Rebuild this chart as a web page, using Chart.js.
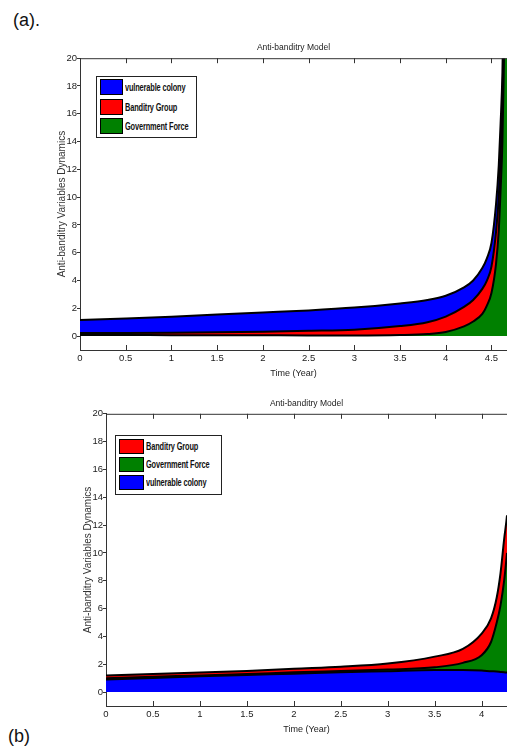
<!DOCTYPE html>
<html lang="en">
<head>
<meta charset="UTF-8">
<title>Anti-banditry Model</title>
<script src="https://cdn.jsdelivr.net/npm/chart.js"></script>
<style>
  body { margin: 0; background: #fff; width: 507px; height: 746px; position: relative; overflow: hidden;
         font-family: "Liberation Sans", Arial, sans-serif; }
  canvas { position: absolute; left: 0; }
  #chartA { top: 0; }
  #chartB { top: 380px; }
  .tag { position: absolute; font-size: 18px; color: #111; line-height: 20px; }
  .legend { position: absolute; border: 1px solid #222; background: #fff; box-sizing: border-box;
            font: bold 10px "Liberation Sans", Arial, sans-serif; color: #111; }
  .legend .row { position: absolute; left: 3px; display: flex; align-items: center; white-space: nowrap; }
  .legend .sw { box-sizing: border-box; border: 1px solid #000; margin-right: 2px; flex: none; }
  .legend .txt { display: inline-block; transform: scaleX(0.74); transform-origin: left center; letter-spacing: -0.2px; }
</style>
</head>
<body>
<div class="tag" style="left:13px; top:10px;">(a).</div>
<div class="tag" style="left:8px; top:726px;">(b)</div>

<canvas id="chartA" width="507" height="390"></canvas>
<canvas id="chartB" width="507" height="366"></canvas>

<div class="legend" style="left:96px; top:76px; width:101px; height:62px;">
  <div class="row" style="top:2px;"><div class="sw" style="width:23px;height:16px;background:#0000ff"></div><span class="txt">vulnerable colony</span></div>
  <div class="row" style="top:22px;"><div class="sw" style="width:23px;height:16px;background:#ff0000"></div><span class="txt">Banditry Group</span></div>
  <div class="row" style="top:41px;"><div class="sw" style="width:23px;height:16px;background:#008000"></div><span class="txt">Government Force</span></div>
</div>
<div class="legend" style="left:115px; top:435px; width:107px; height:60px;">
  <div class="row" style="top:3px;"><div class="sw" style="width:25px;height:15px;background:#ff0000"></div><span class="txt">Banditry Group</span></div>
  <div class="row" style="top:21px;"><div class="sw" style="width:25px;height:15px;background:#008000"></div><span class="txt">Government Force</span></div>
  <div class="row" style="top:39px;"><div class="sw" style="width:25px;height:15px;background:#0000ff"></div><span class="txt">vulnerable colony</span></div>
</div>

<script>
// ---- panel (a): layer thicknesses, stacked bottom -> top: government, banditry, vulnerable
const timeA = [0, 0.5, 1, 1.5, 2, 2.5, 3, 3.5, 3.8, 4, 4.2, 4.3, 4.4, 4.45, 4.5, 4.55, 4.58, 4.6, 4.62, 4.64, 4.67];
const governmentA = [0.08, 0.08, 0.07, 0.07, 0.06, 0.05, 0.05, 0.08, 0.15, 0.3, 0.7, 1.05, 1.6, 2.2, 3.1, 5.2, 7.6, 10.5, 14, 21, 32];
const banditryA = [0.14, 0.15, 0.18, 0.21, 0.26, 0.33, 0.41, 0.64, 0.85, 1.1, 1.4, 1.55, 1.8, 1.8, 1.9, 2.3, 2.4, 2.5, 2.5, 3, 4];
const vulnerableA = [0.93, 1.04, 1.15, 1.27, 1.38, 1.47, 1.59, 1.63, 1.6, 1.5, 1.4, 1.4, 1.5, 1.6, 1.7, 2.0, 2.3, 2.3, 2.5, 3, 4];

// ---- panel (b): stacked bottom -> top: vulnerable, government, banditry
const timeB = [0, 0.5, 1, 1.5, 2, 2.5, 3, 3.5, 3.8, 4, 4.1, 4.16, 4.2, 4.24, 4.27, 4.3];
const vulnerableB = [0.9, 1.02, 1.13, 1.23, 1.32, 1.42, 1.5, 1.58, 1.58, 1.55, 1.5, 1.48, 1.45, 1.42, 1.4, 1.4];
const governmentB = [0.1, 0.08, 0.07, 0.07, 0.1, 0.1, 0.12, 0.2, 0.52, 1.1, 2.1, 3.5, 4.75, 6.6, 8.6, 11];
const banditryB = [0.2, 0.2, 0.2, 0.22, 0.26, 0.3, 0.43, 0.77, 1.0, 1.55, 1.7, 1.8, 2.3, 3.0, 2.7, 3];

const yTicks = { min: -1, max: 20, step: 2 };
const xStep = 0.5;

const sans = '"Liberation Sans", Arial, sans-serif';
const axisColor = '#333';

function layer(label, times, values, color, fillMode) {
    return {
        label: label,
        data: times.map((t, i) => ({ x: t, y: values[i] })),
        backgroundColor: color,
        borderColor: '#000',
        borderWidth: 2,
        fill: fillMode,
        pointRadius: 0,
        cubicInterpolationMode: 'monotone'
    };
}

// MATLAB style box: top edge plus inward x ticks
const boxTicks = {
    id: 'boxTicks',
    afterDatasetsDraw(chart) {
        const { ctx, chartArea } = chart;
        const xs = chart.scales.x;
        ctx.save();
        ctx.strokeStyle = axisColor;
        ctx.lineWidth = 1;
        ctx.beginPath();
        ctx.moveTo(chartArea.left, chartArea.top + 0.5);
        ctx.lineTo(chartArea.right, chartArea.top + 0.5);
        xs.ticks.forEach(tk => {
            const px = Math.round(xs.getPixelForValue(tk.value)) + 0.5;
            if (px <= chartArea.left + 1) return;
            ctx.moveTo(px, chartArea.bottom);
            ctx.lineTo(px, chartArea.bottom - 5);
            ctx.moveTo(px, chartArea.top);
            ctx.lineTo(px, chartArea.top + 5);
        });
        ctx.stroke();
        ctx.restore();
    }
};

function makeChart(id, datasets, xMax, pad) {
    return new Chart(document.getElementById(id), {
        type: 'line',
        data: { datasets: datasets },
        plugins: [boxTicks],
        options: {
            responsive: false,
            animation: false,
            layout: { padding: pad },
            plugins: {
                legend: { display: false },
                tooltip: { enabled: false },
                title: {
                    display: true,
                    text: 'Anti-banditry Model',
                    fullSize: false,
                    color: '#222',
                    font: { family: sans, size: 8.5, weight: 'normal' },
                    padding: { top: 5, bottom: 5 }
                }
            },
            scales: {
                x: {
                    type: 'linear',
                    min: 0,
                    max: xMax,
                    afterFit: s => { s.height = 33; },
                    ticks: { stepSize: xStep, includeBounds: false, padding: 3, color: '#222',
                             font: { family: sans, size: 9.5 },
                             callback: v => String(Math.round(v * 100) / 100) },
                    grid: { drawOnChartArea: false, drawTicks: false },
                    border: { color: axisColor },
                    title: { display: true, text: 'Time (Year)', color: '#222',
                             font: { family: sans, size: 9 }, padding: { top: 4, bottom: 4 } }
                },
                y: {
                    stacked: true,
                    min: yTicks.min,
                    max: yTicks.max,
                    afterFit: s => { s.width = 28; },
                    ticks: { stepSize: yTicks.step, includeBounds: false, padding: 0, color: '#222',
                             font: { family: sans, size: 9.5 } },
                    grid: { drawOnChartArea: false, drawTicks: true, tickLength: 3, color: axisColor },
                    border: { color: axisColor },
                    title: { display: true, text: 'Anti-banditry Variables Dynamics', color: '#333',
                             font: { family: sans, size: 10 },
                             padding: { top: 4, bottom: 4 } }
                }
            }
        }
    });
}

makeChart('chartA', [
    layer('Government Force', timeA, governmentA, '#008000', 'origin'),
    layer('Banditry Group', timeA, banditryA, '#ff0000', '-1'),
    layer('vulnerable colony', timeA, vulnerableA, '#0000ff', '-1')
], 4.67, { top: 38, left: 52, right: 0, bottom: 7 });

makeChart('chartB', [
    layer('vulnerable colony', timeB, vulnerableB, '#0000ff', 'origin'),
    layer('Government Force', timeB, governmentB, '#008000', '-1'),
    layer('Banditry Group', timeB, banditryB, '#ff0000', '-1')
], 4.27, { top: 13.6, left: 78, right: 0, bottom: 7 });
</script>
</body>
</html>
